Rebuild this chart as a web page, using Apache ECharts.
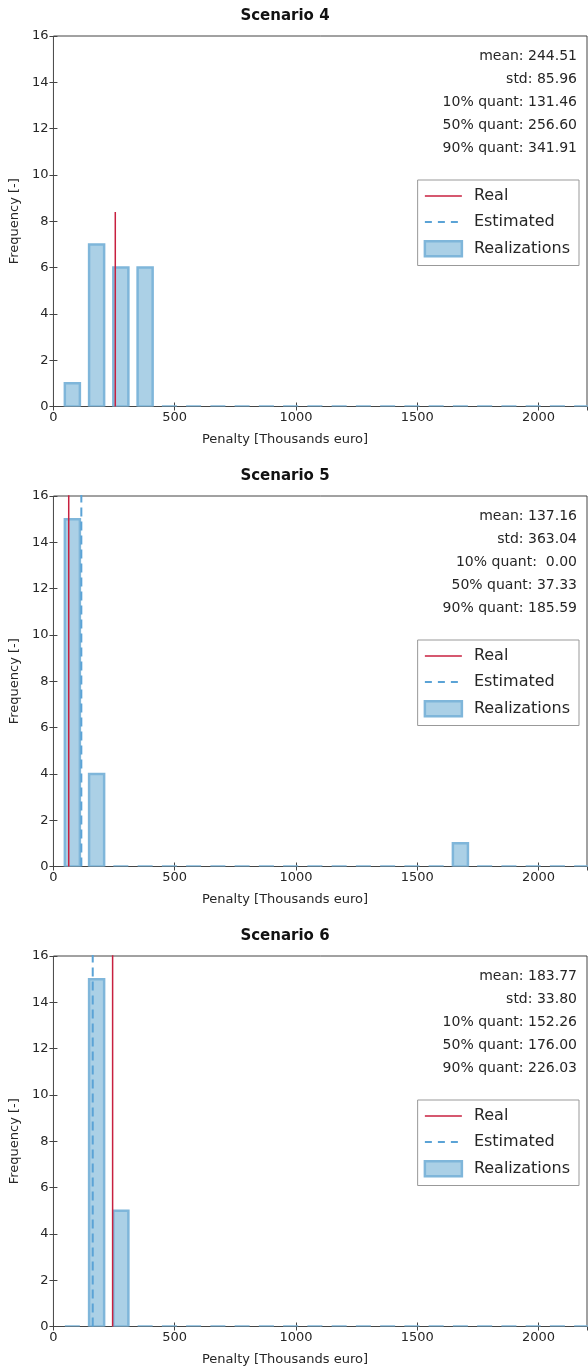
<!DOCTYPE html>
<html><head><meta charset="utf-8">
<script src="https://cdn.jsdelivr.net/npm/echarts@6/dist/echarts.min.js"></script>
<style>html,body{margin:0;padding:0;background:#fff}#c{width:588px;height:1371px}</style>
</head><body><div id="c"></div>
<script>
// ---------- data ----------
const titles = ['Scenario 4', 'Scenario 5', 'Scenario 6'];
const binCenters = [78, 178, 278, 378, 478, 578, 678, 778, 878, 978, 1078, 1178, 1278, 1378, 1478, 1578, 1678, 1778, 1878, 1978, 2078, 2178];
const freqS4 = [1, 7, 6, 6, 0, 0, 0, 0, 0, 0, 0, 0, 0, 0, 0, 0, 0, 0, 0, 0, 0, 0];
const freqS5 = [15, 4, 0, 0, 0, 0, 0, 0, 0, 0, 0, 0, 0, 0, 0, 0, 1, 0, 0, 0, 0, 0];
const freqS6 = [0, 15, 5, 0, 0, 0, 0, 0, 0, 0, 0, 0, 0, 0, 0, 0, 0, 0, 0, 0, 0, 0];
const realX = [255, 63, 244];
const estimatedX = [null, 115, 162];
const lineTop = [8.4, 18, 18];
const statLabels = ['mean:', 'std:', '10% quant:', '50% quant:', '90% quant:'];
const statsS4 = ['244.51', '85.96', '131.46', '256.60', '341.91'];
const statsS5 = ['137.16', '363.04', ' 0.00', '37.33', '185.59'];
const statsS6 = ['183.77', '33.80', '152.26', '176.00', '226.03'];
const xAxisTitle = 'Penalty [Thousands euro]';
const yAxisTitle = 'Frequency [-]';
const legendNames = ['Real', 'Estimated', 'Realizations'];

// ---------- styles / layout ----------
const freqs = [freqS4, freqS5, freqS6];
const stats = [statsS4, statsS5, statsS6];
const FONT = 'DejaVu Sans';
const TXT = '#262626';
const RED = '#c8203f';
const BLUE = '#5ba3d6';
const FILL = '#abd0e6';
const EDGE = '#7fb6da';
const HALF_W = 31;         // half bar width, data units
const panelTop = [36, 496, 956];
const plotH = 370.5;

const grids = [], xAxes = [], yAxes = [], series = [], legends = [], graphics = [];

panelTop.forEach((top, k) => {
  grids.push({left: 53, top: top, width: 534, height: plotH, show: true,
    borderColor: '#444', borderWidth: 1, backgroundColor: 'transparent'});
  const tick = {show: true, inside: true, length: 4, lineStyle: {color: '#444', width: 1}};
  xAxes.push({gridIndex: k, type: 'value', min: 0, max: 2200, interval: 500, position: 'bottom',
    axisLine: {show: false}, splitLine: {show: false}, axisTick: tick,
    axisLabel: {fontSize: 13, color: TXT, fontFamily: FONT, margin: 5, showMaxLabel: false,
      formatter: v => String(v)}});
  xAxes.push({gridIndex: k, type: 'value', min: 0, max: 2200, interval: 500, position: 'top',
    axisLine: {show: false}, splitLine: {show: false}, axisTick: tick, axisLabel: {show: false}});
  yAxes.push({gridIndex: k, type: 'value', min: 0, max: 16, interval: 2, position: 'left',
    name: yAxisTitle, nameLocation: 'middle', nameGap: 30,
    nameTextStyle: {fontSize: 13, color: TXT, fontFamily: FONT},
    axisLine: {show: false}, splitLine: {show: false}, axisTick: tick,
    axisLabel: {fontSize: 13, color: TXT, fontFamily: FONT, margin: 5, formatter: v => String(v)}});
  yAxes.push({gridIndex: k, type: 'value', min: 0, max: 16, interval: 2, position: 'right',
    axisLine: {show: false}, splitLine: {show: false}, axisTick: tick, axisLabel: {show: false}});

  series.push({
    type: 'custom', name: 'Realizations', xAxisIndex: 2 * k, yAxisIndex: 2 * k, clip: true, z: 2,
    itemStyle: {color: FILL},
    data: binCenters.map((c, i) => [c, freqs[k][i]]),
    renderItem: (params, api) => {
      const c = api.value(0), v = api.value(1);
      const p0 = api.coord([c - HALF_W, 0]);
      const p1 = api.coord([c + HALF_W, v]);
      return {type: 'rect',
        shape: {x: p0[0], y: p1[1], width: p1[0] - p0[0], height: p0[1] - p1[1]},
        style: {fill: FILL, stroke: EDGE, lineWidth: 2.5}};
    }
  });
  series.push({type: 'line', name: 'Real', xAxisIndex: 2 * k, yAxisIndex: 2 * k, z: 4,
    symbol: 'none', clip: true, silent: true,
    lineStyle: {color: RED, width: 1.5}, itemStyle: {color: RED},
    data: [[realX[k], 0], [realX[k], lineTop[k]]]});
  if (estimatedX[k] !== null) {
    series.push({type: 'line', name: 'Estimated', xAxisIndex: 2 * k, yAxisIndex: 2 * k, z: 3,
      symbol: 'none', clip: true, silent: true,
      lineStyle: {color: BLUE, width: 2, type: [9, 5]}, itemStyle: {color: BLUE},
      data: [[estimatedX[k], 0], [estimatedX[k], lineTop[k]]]});
  }

  legends.push({
    orient: 'vertical', right: 9, top: top + 144, itemWidth: 37, itemHeight: 15, itemGap: 10,
    padding: [8, 9, 8, 6], backgroundColor: '#fff', borderColor: '#999', borderWidth: 1,
    selectedMode: false,
    textStyle: {fontSize: 16, color: TXT, fontFamily: FONT, padding: [0, 0, 0, 7]},
    data: [
      {name: legendNames[0], itemStyle: {opacity: 0}, lineStyle: {color: RED, width: 1.5, type: 'solid'}},
      {name: legendNames[1], itemStyle: {opacity: 0}, lineStyle: {color: BLUE, width: 2, type: [7, 6]}},
      {name: legendNames[2], icon: 'rect', itemStyle: {color: FILL, borderColor: EDGE, borderWidth: 2.5}}
    ]
  });

  graphics.push({type: 'text', x: 285, y: top - 20, z: 10,
    style: {text: titles[k], font: 'bold 15px ' + FONT, fill: '#111', align: 'center', verticalAlign: 'middle'}});
  graphics.push({type: 'text', x: 285, y: top + 404, z: 10,
    style: {text: xAxisTitle, font: '13px ' + FONT, fill: TXT, align: 'center', verticalAlign: 'middle'}});
  statLabels.forEach((lab, i) => {
    graphics.push({type: 'text', x: 577, y: top + 20 + 23 * i, z: 10,
      style: {text: lab + ' ' + stats[k][i], font: '14px ' + FONT, fill: TXT, align: 'right', verticalAlign: 'middle'}});
  });
});

const chart = echarts.init(document.getElementById('c'), null, {renderer: 'canvas'});
chart.setOption({
  animation: false,
  backgroundColor: '#fff',
  grid: grids, xAxis: xAxes, yAxis: yAxes, series: series, legend: legends,
  graphic: {elements: graphics}
});
</script></body></html>
